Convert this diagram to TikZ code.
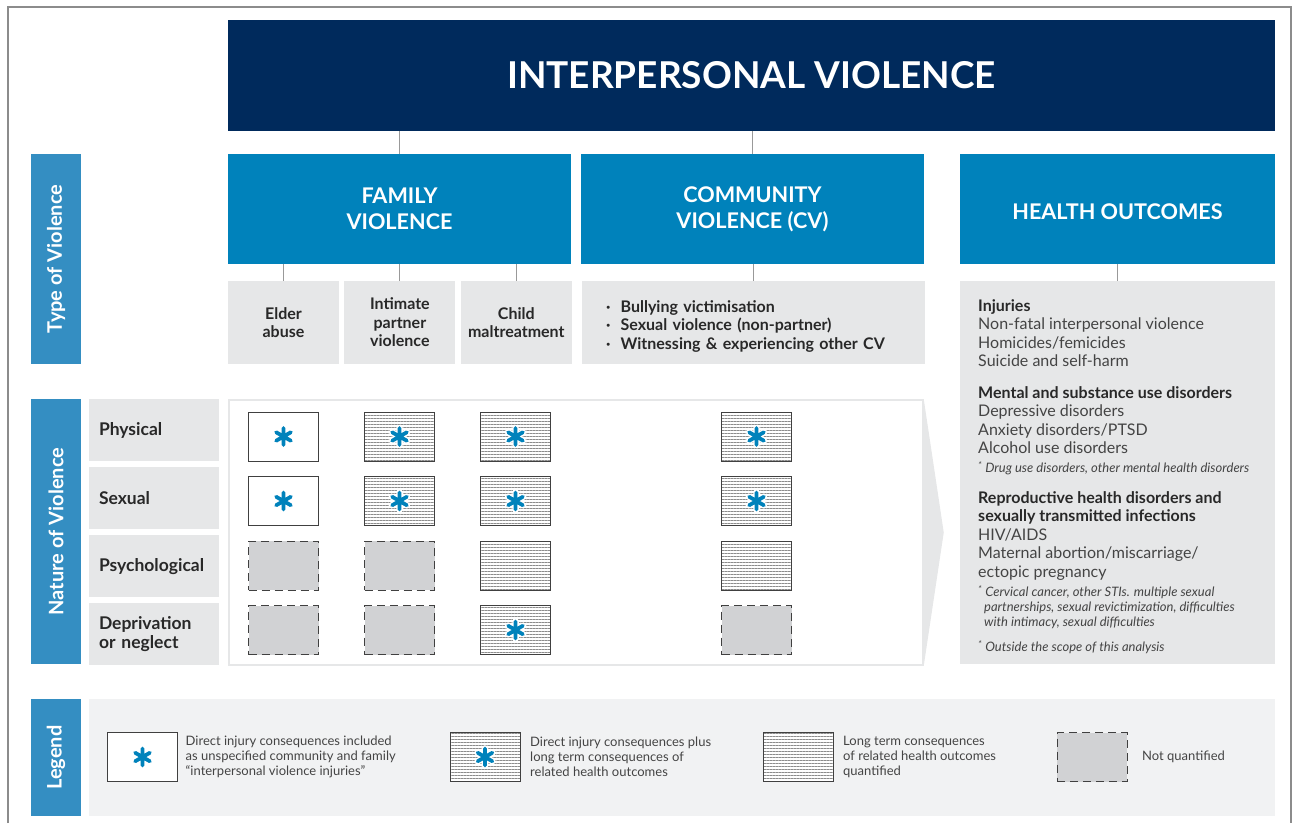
\documentclass[tikz,border=0pt]{standalone}
\usepackage{fontspec}
\setmainfont{Lato}
\usetikzlibrary{positioning, patterns.meta}

\definecolor{navy}{RGB}{0,42,92}
\definecolor{boxblue}{RGB}{0,130,187}
\definecolor{sideblue}{RGB}{52,142,194}
\definecolor{boxgray}{RGB}{230,231,232}
\definecolor{legendgray}{RGB}{241,242,243}
\definecolor{cellgray}{RGB}{209,210,212}
\definecolor{textgray}{RGB}{68,68,68}
\definecolor{darktext}{RGB}{40,40,40}

\tikzstyle{typebox} = [rectangle, fill=boxblue, minimum width=343, minimum height=110, inner sep=0, align=center, text=white, font=\bfseries\fontsize{21.6}{26}\selectfont]
\tikzstyle{sidelabel} = [rectangle, fill=sideblue, rotate=90, minimum height=50, inner sep=0, text=white, font=\bfseries\fontsize{20}{22}\selectfont]
\tikzstyle{subbox} = [rectangle, fill=boxgray, minimum width=111, minimum height=83, inner sep=0, align=center, text=darktext, font=\bfseries\fontsize{16}{18.5}\selectfont]
\tikzstyle{rowlabel} = [rectangle, fill=boxgray, minimum width=130, minimum height=62, inner xsep=10pt, inner ysep=0, text width=110pt, align=left, text=darktext, font=\bfseries\fontsize{17.5}{19.5}\selectfont]
\tikzstyle{outtext} = [anchor=north west, inner sep=0, align=left, text=textgray, font=\fontsize{16}{18.5}\selectfont]
\tikzstyle{footnote} = [anchor=north west, inner sep=0, align=left, text=textgray, font=\itshape\fontsize{13}{15}\selectfont]
\tikzstyle{keytext} = [anchor=west, inner sep=0, align=left, text=textgray, font=\fontsize{13}{15}\selectfont]
\tikzstyle{link} = [draw=black!40, line width=0.9pt]

% matrix cells
\tikzstyle{cell} = [rectangle, minimum width=70, minimum height=49, inner sep=0, outer sep=0]
\tikzstyle{plaincell} = [cell, draw=black!75, line width=1pt, fill=white]
\tikzstyle{linedcell} = [cell, draw=black!75, line width=1pt, preaction={fill=white}, pattern={Lines[angle=0, distance=3pt, line width=0.6pt]}, pattern color=black!45]
\tikzstyle{nocell} = [cell, draw=black!75, line width=1pt, dash pattern=on 8pt off 5pt, fill=cellgray]
\tikzstyle{injury} = [path picture={
  \draw[white, line width=6.5pt, line cap=round] (path picture bounding box.center) +(90:8.5pt) -- +(270:8.5pt) +(30:8.5pt) -- +(210:8.5pt) +(150:8.5pt) -- +(330:8.5pt);
  \draw[boxblue, line width=3.8pt, line cap=round] (path picture bounding box.center) +(90:8.5pt) -- +(270:8.5pt) +(30:8.5pt) -- +(210:8.5pt) +(150:8.5pt) -- +(330:8.5pt);
}]

\begin{document}
\begin{tikzpicture}[x=1pt, y=-1pt]
\useasboundingbox (0,0) rectangle (1293,823);
\draw[black!45, line width=1.2pt] (8,823) -- (8,7) -- (1291,7) -- (1291,823);

% header and violence types
\node (title) [rectangle, fill=navy, minimum width=1047, minimum height=111, inner sep=0, text=white, font=\bfseries\fontsize{37}{40}\selectfont] at (751.5,75.5) {INTERPERSONAL VIOLENCE};
\node (family) [typebox] at (399.5,209) {FAMILY\\VIOLENCE};
\node (community) [typebox] at (752.5,209) {COMMUNITY\\VIOLENCE (CV)};
\node (health) [typebox, minimum width=315] at (1117.5,209) {\raisebox{-3pt}[\height][0pt]{HEALTH OUTCOMES}};

\node (typelbl) [sidelabel, minimum width=210] at (56,259) {Type of Violence};
\node (naturelbl) [sidelabel, minimum width=265] at (56,531.5) {Nature of Violence};
\node (legendlbl) [sidelabel, minimum width=117] at (56,757.5) {Legend};

\node (elder) [subbox] at (283.5,322.5) {Elder\\abuse};
\node (partner) [subbox, right=5pt of elder] {Intimate\\partner\\violence};
\node (child) [subbox, right=5pt of partner] {Child\\maltreatment};
\node (cvlist) [subbox, minimum width=343, right=10pt of child, text width=295pt, align=left] {\rule{0pt}{19pt}·\hspace{10pt}Bullying victimisation\\·\hspace{10pt}Sexual violence (non-partner)\\·\hspace{10pt}Witnessing \& experiencing other CV};

\draw [link] (family.north) -- (family.north |- title.south);
\draw [link] (community.north) -- (community.north |- title.south);
\draw [link] (elder.north) -- (elder.north |- family.south);
\draw [link] (partner.north) -- (partner.north |- family.south);
\draw [link] (child.north) -- (child.north |- family.south);
\draw [link] (cvlist.north) -- (cvlist.north |- community.south);

% health outcomes list
\node (outcomes) [rectangle, fill=boxgray, minimum width=315, minimum height=383, inner sep=0] at (1117.5,472.5) {};
\draw [link] (outcomes.north) -- (outcomes.north |- health.south);
\node (injuries) [outtext] at (978,299) {{\color{darktext}\bfseries Injuries}\\Non-fatal interpersonal violence\\Homicides/femicides\\Suicide and self-harm};
\node (mental) [outtext] at (978,386) {{\color{darktext}\bfseries Mental and substance use disorders}\\Depressive disorders\\Anxiety disorders/PTSD\\Alcohol use disorders};
\node (mentalnote) [footnote] at (978,461) {\textsuperscript{*} Drug use disorders, other mental health disorders};
\node (repro) [outtext] at (978,491) {{\color{darktext}\bfseries Reproductive health disorders and}\\{\color{darktext}\bfseries sexually transmitted infections}\\HIV/AIDS\\Maternal abortion/miscarriage/\\ectopic pregnancy};
\node (repronote) [footnote] at (978,585) {\textsuperscript{*} Cervical cancer, other STIs. multiple sexual\\\hspace*{6pt}partnerships, sexual revictimization, difficulties\\\hspace*{6pt}with intimacy, sexual difficulties};
\node (scopenote) [footnote] at (978,640) {\textsuperscript{*} Outside the scope of this analysis};

% nature of violence rows
\node (physical) [rowlabel] at (154,430) {Physical};
\node (sexual) [rowlabel, below=5.7pt of physical] {Sexual};
\node (psych) [rowlabel, below=5.7pt of sexual] {Psychological};
\node (neglect) [rowlabel, below=5.7pt of psych] {Deprivation\\or neglect};

\node (panel) [rectangle, draw=boxgray, line width=1.5pt, fill=white, minimum width=694, minimum height=265, inner sep=0] at (576,532.5) {};
\fill [boxgray] (panel.north east) -- ([xshift=20pt]panel.east) -- (panel.south east) -- cycle;

\node (phy1) [plaincell, injury] at (283.5,436.5) {};
\node (phy2) [linedcell, injury, right=46pt of phy1] {};
\node (phy3) [linedcell, injury, right=46pt of phy2] {};
\node (phy4) [linedcell, injury, right=171pt of phy3] {};
\node (sex1) [plaincell, injury, below=15.5pt of phy1] {};
\node (sex2) [linedcell, injury, below=15.5pt of phy2] {};
\node (sex3) [linedcell, injury, below=15.5pt of phy3] {};
\node (sex4) [linedcell, injury, below=15.5pt of phy4] {};
\node (psy1) [nocell, below=15.5pt of sex1] {};
\node (psy2) [nocell, below=15.5pt of sex2] {};
\node (psy3) [linedcell, below=15.5pt of sex3] {};
\node (psy4) [linedcell, below=15.5pt of sex4] {};
\node (dep1) [nocell, below=15.5pt of psy1] {};
\node (dep2) [nocell, below=15.5pt of psy2] {};
\node (dep3) [linedcell, injury, below=15.5pt of psy3] {};
\node (dep4) [nocell, below=15.5pt of psy4] {};

% legend
\node (legendbox) [rectangle, fill=legendgray, minimum width=1186, minimum height=117, inner sep=0] at (682,757.5) {};
\node (key1) [plaincell, injury] at (142.5,757) {};
\node (key1txt) [keytext, right=8pt of key1] {Direct injury consequences included\\as unspecified community and family\\``interpersonal violence injuries''};
\node (key2) [linedcell, injury] at (485,757) {};
\node (key2txt) [keytext, right=10pt of key2] {Direct injury consequences plus\\long term consequences of\\related health outcomes};
\node (key3) [linedcell] at (798,757) {};
\node (key3txt) [keytext, right=10pt of key3] {Long term consequences\\of related health outcomes\\quantified};
\node (key4) [nocell] at (1092,757) {};
\node (key4txt) [keytext, right=15pt of key4] {Not quantified};
\end{tikzpicture}
\end{document}
